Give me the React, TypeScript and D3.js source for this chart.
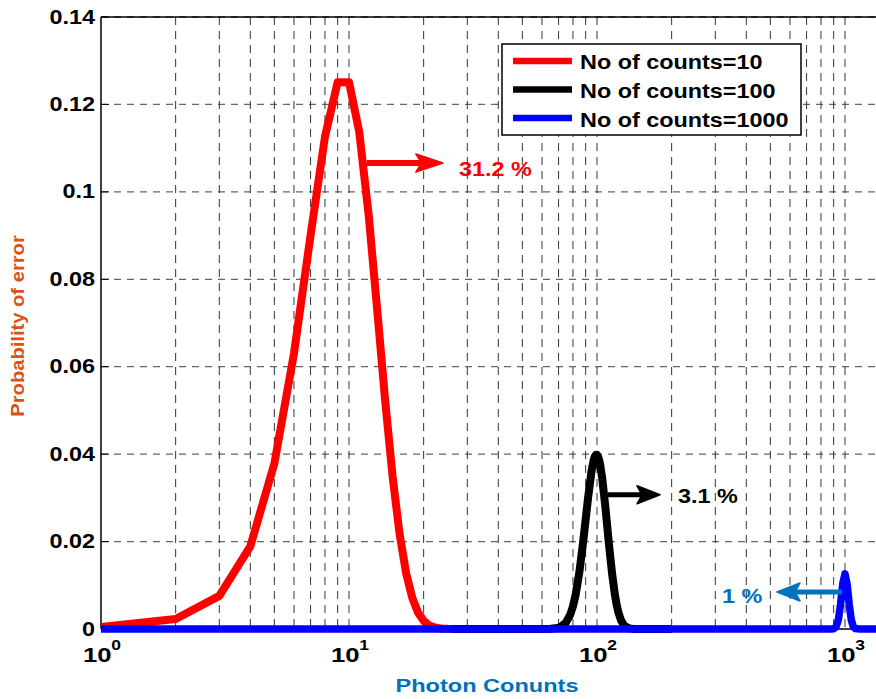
import React from 'react';
import * as d3 from 'd3';

// Photon counts (k) and probability values
const k10 = [1, 2, 3, 4, 5, 6, 7, 8, 9, 10, 11, 12, 13, 14, 15, 16, 17, 18, 19, 20, 21, 22, 23, 24, 25, 27, 30];
const p10 = [0.00045, 0.00227, 0.00757, 0.01892, 0.03783, 0.06306, 0.09008, 0.1126, 0.1251, 0.1251, 0.1137, 0.09478, 0.07291, 0.05208, 0.03472, 0.0217, 0.01276, 0.00709, 0.00373, 0.00187, 0.00089, 0.0004, 0.00018, 0.00007, 0.00003, 0, 0];

const k100 = [26, 50, 60, 65, 68, 70, 72, 75, 78, 80, 82, 85, 88, 90, 92, 95, 97, 98, 99, 100, 101, 102, 103, 105, 108, 110, 112, 115, 118, 120, 122, 125, 128, 130, 135, 140, 150, 200];
const p100 = [0, 0, 0.0000045, 0.000045, 0.00015, 0.00031, 0.00061, 0.0015, 0.00329, 0.0052, 0.00782, 0.01321, 0.02006, 0.02504, 0.02991, 0.03601, 0.03867, 0.03946, 0.03986, 0.03986, 0.03946, 0.03869, 0.03756, 0.0344, 0.02808, 0.02342, 0.01884, 0.01272, 0.00794, 0.00556, 0.00377, 0.00198, 0.00097, 0.00058, 0.00014, 0.000028, 0, 0];

const k1000 = [1, 850, 880, 900, 920, 940, 960, 980, 1000, 1020, 1040, 1060, 1080, 1100, 1150, 1350];
const p1000 = [0, 0, 0.00001, 0.000075, 0.00049, 0.00207, 0.00572, 0.01042, 0.01261, 0.01024, 0.00562, 0.0021, 0.00054, 0.000095, 0, 0];

const yTicks = [0, 0.02, 0.04, 0.06, 0.08, 0.1, 0.12, 0.14];
const yTickLabels = ['0', '0.02', '0.04', '0.06', '0.08', '0.1', '0.12', '0.14'];
const xMajor = [1, 10, 100, 1000];
const xExp = ['0', '1', '2', '3'];
const legendLabels = ['No of counts=10', 'No of counts=100', 'No of counts=1000'];
const seriesColors = ['#ff0000', '#000000', '#0000ff'];

// annotation arrows: [x start, x tip, y] in data units, label position and text
const arrows = [
  { x1: 11.8, x2: 23.9, y: 0.1066, tx: 27.8, ty: 0.1037, text: '31.2 %', color: '#ff0000', head: 27, w: 6 },
  { x1: 110.7, x2: 179.5, y: 0.0307, tx: 212, ty: 0.0288, text: '3.1 %', color: '#000000', head: 23, w: 5 },
  { x1: 972, x2: 532, y: 0.00847, tx: 319, ty: 0.00595, text: '1 %', color: '#0072bd', head: 23, w: 5 },
];

const FONT = '"Liberation Sans", Arial, sans-serif';

export default function App() {
  const W = 876, H = 699;
  const left = 101, top = 17, bottom = 629;

  const x = d3.scaleLog().domain([1, 1000]).range([left, 845]);
  const y = d3.scaleLinear().domain([0, 0.14]).range([bottom, top]);

  const minor: number[] = [];
  xMajor.forEach((d, i) => {
    if (i < xMajor.length - 1) for (let m = 2; m <= 9; m++) minor.push(d * m);
  });

  const line = d3.line<[number, number]>().x(d => x(d[0])).y(d => y(d[1]));
  const series = [
    k10.map((k, i) => [k, p10[i]] as [number, number]),
    k100.map((k, i) => [k, p100[i]] as [number, number]),
    k1000.map((k, i) => [k, p1000[i]] as [number, number]),
  ];
  const widths = [8, 8, 7.5];

  return (
    <svg width={W} height={H} style={{ position: 'absolute', left: 0, top: 0, background: '#fff' }}
      fontFamily={FONT} fontWeight="bold">
      <rect width={W} height={H} fill="#fff" />

      {/* grid */}
      {yTicks.slice(1).map(t => (
        <line key={'gy' + t} x1={left} x2={W} y1={y(t)} y2={y(t)} stroke="#666" strokeWidth={1.3} strokeDasharray="7,6" />
      ))}
      {[...minor, ...xMajor.slice(1)].map(t => (
        <line key={'gx' + t} x1={x(t)} x2={x(t)} y1={top} y2={bottom} stroke="#333" strokeWidth={1} strokeDasharray="8,6" />
      ))}

      {/* axes */}
      <line x1={left} x2={left} y1={top} y2={bottom} stroke="#000" strokeWidth={1.5} />
      <line x1={left} x2={W} y1={top} y2={top} stroke="#000" strokeWidth={1.5} />
      <line x1={left} x2={W} y1={bottom} y2={bottom} stroke="#000" strokeWidth={1.5} />
      {yTicks.map(t => (
        <line key={'ty' + t} x1={left} x2={left + 8} y1={y(t)} y2={y(t)} stroke="#000" strokeWidth={1} />
      ))}

      {/* y tick labels */}
      {yTicks.map((t, i) => (
        <text key={'ly' + t} transform={`translate(95,${y(t) + 6.5}) scale(1.2,1)`} textAnchor="end" fontSize={19.5}>
          {yTickLabels[i]}
        </text>
      ))}

      {/* x tick labels */}
      {xMajor.map((t, i) => (
        <text key={'lx' + t} transform={`translate(${x(t) + 1},662) scale(1.25,1)`} textAnchor="middle" fontSize={20.5}>
          <tspan>10</tspan>
          <tspan dy={-12} fontSize={14}>{xExp[i]}</tspan>
        </text>
      ))}

      {/* data */}
      {series.map((s, i) => (
        <path key={'s' + i} d={line(s) || ''} fill="none" stroke={seriesColors[i]} strokeWidth={widths[i]}
          strokeLinejoin="round" />
      ))}

      {/* annotations */}
      {arrows.map((a, i) => {
        const px1 = x(a.x1), px2 = x(a.x2), py = y(a.y);
        const dir = px2 > px1 ? 1 : -1;
        const back = px2 - dir * a.head;
        const notch = px2 - dir * a.head * 0.78;
        return (
          <g key={'a' + i}>
            <line x1={px1} x2={notch} y1={py} y2={py} stroke={a.color} strokeWidth={a.w} />
            <polygon points={`${px2},${py} ${back},${py - 9} ${notch},${py} ${back},${py + 9}`} fill={a.color}
              stroke={a.color} strokeWidth={1.5} strokeLinejoin="round" />
            <text transform={`translate(${x(a.tx)},${y(a.ty)}) scale(1.2,1)`} fontSize={19.5} fill={a.color}>{a.text}</text>
          </g>
        );
      })}

      {/* legend */}
      <rect x={502} y={44} width={299} height={91} fill="#fff" stroke="#000" strokeWidth={1.5} />
      {legendLabels.map((l, i) => (
        <g key={'lg' + i}>
          <line x1={513} x2={572} y1={61 + i * 28.5} y2={61 + i * 28.5} stroke={seriesColors[i]} strokeWidth={6.5} />
          <text transform={`translate(580,${69 + i * 28.8}) scale(1.2,1)`} fontSize={19.5}>{l}</text>
        </g>
      ))}

      {/* axis titles */}
      <text transform="translate(487,692) scale(1.24,1)" textAnchor="middle" fontSize={19} fill="#0072bd">Photon Conunts</text>
      <text transform="translate(24,326) rotate(-90) scale(1.12,1)" textAnchor="middle" fontSize={18} fill="#d95319">
        Probability of error
      </text>
    </svg>
  );
}
